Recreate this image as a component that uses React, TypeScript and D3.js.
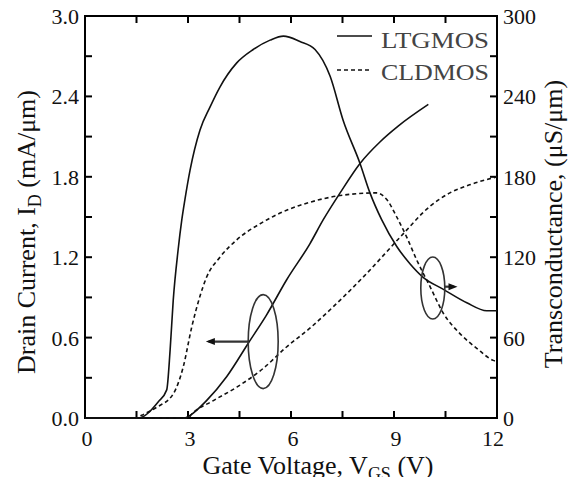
import React from "react";
import * as d3 from "d3";

// gate voltage / transconductance, LTGMOS (solid, peaked)
const vgsGmLt = [0, 1.0, 1.55, 2.13, 2.38, 2.48, 2.57, 2.71, 2.82, 2.91, 3.06, 3.35, 3.64, 3.93, 4.42, 4.9, 5.39, 5.78, 6.26, 6.7, 7.14, 7.52, 8.01, 8.3, 8.64, 9.08, 9.47, 9.85, 10.44, 11.12, 11.7, 12];
const gmLt = [0, 0, 0, 12, 21, 51, 88, 125, 148, 163, 185, 215, 232, 247, 265, 275, 282, 285, 281, 275, 255, 222, 190, 168, 148, 128, 115, 105, 96, 86, 80, 80];

// drain current, LTGMOS
const vgsIdLt = [0, 2.9, 3.06, 3.54, 4.13, 4.76, 5.29, 5.87, 6.55, 6.94, 7.43, 8.01, 8.59, 9.13, 10.0];
const idLt = [0, 0, 0.02, 0.13, 0.31, 0.56, 0.77, 1.03, 1.3, 1.48, 1.68, 1.9, 2.06, 2.18, 2.34];

// transconductance, CLDMOS (dashed)
const vgsGmCl = [0, 1.5, 1.65, 2.09, 2.57, 2.86, 3.11, 3.35, 3.54, 3.93, 4.42, 5.1, 5.87, 6.55, 7.43, 8.5, 8.79, 9.08, 9.37, 9.66, 10.05, 10.44, 10.92, 11.41, 11.89, 12];
const gmCl = [0, 0, 2, 8, 18, 38, 68, 91, 105, 120, 133, 145, 155, 161, 166, 168, 163, 150, 135, 118, 98, 78, 63, 52, 43, 42];

// drain current, CLDMOS
const vgsIdCl = [0, 3.0, 3.11, 3.74, 4.42, 5.19, 5.87, 6.55, 7.23, 8.21, 9.18, 10.05, 10.63, 11.2, 12];
const idCl = [0, 0, 0.03, 0.13, 0.23, 0.37, 0.53, 0.67, 0.83, 1.08, 1.35, 1.58, 1.68, 1.74, 1.8];

const xTicks = [0, 3, 6, 9, 12];
const leftTicks = ["0.0", "0.6", "1.2", "1.8", "2.4", "3.0"];
const rightTicks = [0, 60, 120, 180, 240, 300];
const legendNames = ["LTGMOS", "CLDMOS"];

const font = "'Liberation Serif', 'Times New Roman', serif";

export default function App() {
  const x = d3.scaleLinear().domain([0, 12]).range([85, 497]);
  const yL = d3.scaleLinear().domain([0, 3]).range([418, 16]);
  const yR = d3.scaleLinear().domain([0, 300]).range([418, 16]);

  const mk = (xs: number[], ys: number[], sy: d3.ScaleLinear<number, number>) =>
    d3.line<number>()
      .x((d, i) => x(xs[i]))
      .y((d) => sy(d))
      .curve(d3.curveMonotoneX)(ys) as string;

  const minorX = d3.range(0, 12.01, 1.5);
  const minorL = d3.range(0, 3.01, 0.3);
  const minorR = d3.range(0, 301, 30);
  const tk = 7;

  return (
    <svg width={577} height={477} style={{ position: "absolute", left: 0, top: 0, background: "#fff" }}>
      <rect x={0} y={0} width={577} height={477} fill="#fff" />
      {/* frame */}
      <rect x={x(0)} y={yL(3)} width={x(12) - x(0)} height={yL(0) - yL(3)} fill="none" stroke="#000" strokeWidth={2} />
      {minorX.map((v) => (
        <g key={"x" + v}>
          <line x1={x(v)} x2={x(v)} y1={yL(0)} y2={yL(0) - tk} stroke="#000" strokeWidth={2} />
          <line x1={x(v)} x2={x(v)} y1={yL(3)} y2={yL(3) + tk} stroke="#000" strokeWidth={2} />
        </g>
      ))}
      {minorL.map((v) => (
        <line key={"l" + v} x1={x(0)} x2={x(0) + tk} y1={yL(v)} y2={yL(v)} stroke="#000" strokeWidth={2} />
      ))}
      {minorR.map((v) => (
        <line key={"r" + v} x1={x(12)} x2={x(12) - tk} y1={yR(v)} y2={yR(v)} stroke="#000" strokeWidth={2} />
      ))}

      {/* tick labels */}
      <g fontFamily={font} fontSize={22} fill="#111">
        {xTicks.map((v) => (
          <text key={"xt" + v} x={x(v) + (v === 12 ? -4 : 2)} y={446} textAnchor="middle">{v}</text>
        ))}
        {leftTicks.map((s) => (
          <text key={"lt" + s} x={79} y={yL(+s) + 8} textAnchor="end">{s}</text>
        ))}
        {rightTicks.map((v) => (
          <text key={"rt" + v} x={503} y={yR(v) + 8} textAnchor="start">{v}</text>
        ))}
      </g>

      {/* axis titles */}
      <g fontFamily={font} fontSize={26} fill="#111">
        <text x={318} y={474} textAnchor="middle">
          Gate Voltage, V<tspan fontSize={18} dy={6}>GS</tspan>
          <tspan dy={-6}> (V)</tspan>
        </text>
        <text transform="translate(35,232) rotate(-90)" textAnchor="middle">
          Drain Current,  I<tspan fontSize={18} dy={6}>D</tspan>
          <tspan dy={-6}> (mA/μm)</tspan>
        </text>
        <text transform="translate(562,224) rotate(-90)" textAnchor="middle">
          Transconductance, (μS/μm)
        </text>
      </g>

      {/* curves */}
      <g fill="none" stroke="#111" strokeWidth={1.6}>
        <path d={mk(vgsGmLt, gmLt, yR)} />
        <path d={mk(vgsIdLt, idLt, yL)} />
        <path d={mk(vgsGmCl, gmCl, yR)} strokeDasharray="4,3" />
        <path d={mk(vgsIdCl, idCl, yL)} strokeDasharray="4,3" />
      </g>

      {/* annotations */}
      <g fill="none" stroke="#333" strokeWidth={1.6}>
        <ellipse cx={x(5.19)} cy={yL(0.57)} rx={15} ry={47} />
        <line x1={x(5.19) - 15} x2={x(3.6)} y1={yL(0.57)} y2={yL(0.57)} strokeWidth={2.2} />
        <ellipse cx={x(10.13)} cy={yR(97)} rx={12} ry={31} />
        <line x1={x(10.13) + 12} x2={x(10.75)} y1={yR(98)} y2={yR(98)} strokeWidth={2.2} />
      </g>
      <path d={`M${x(3.52)},${yL(0.57)} l9,-3.5 l0,7 z`} fill="#111" />
      <path d={`M${x(10.85)},${yR(98)} l-9,-3.5 l0,7 z`} fill="#111" />

      {/* legend */}
      {legendNames.map((n, i) => (
        <g key={n}>
          <line x1={337} x2={372} y1={36 + i * 34} y2={36 + i * 34} stroke="#111" strokeWidth={1.6} strokeDasharray={i ? "4,3" : undefined} />
          <text x={381} y={48 + i * 32} fontFamily={font} fontSize={23} fill="#444" textLength={108} lengthAdjust="spacingAndGlyphs">{n}</text>
        </g>
      ))}
    </svg>
  );
}
